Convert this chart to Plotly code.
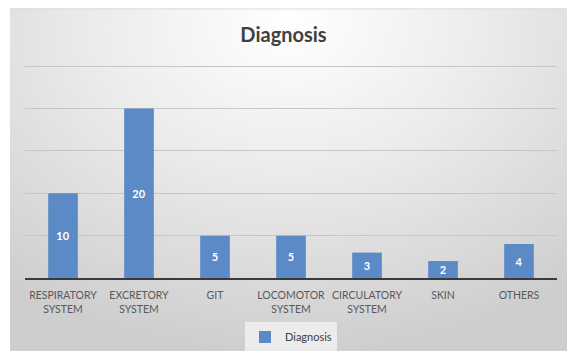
import plotly.graph_objects as go
import urllib.parse

categories = ["RESPIRATORY<br>SYSTEM", "EXCRETORY<br>SYSTEM", "GIT", "LOCOMOTOR<br>SYSTEM",
              "CIRCULATORY<br>SYSTEM", "SKIN", "OTHERS"]
values = [10, 20, 5, 5, 3, 2, 4]
series_name = "Diagnosis"
y_ticks = [0, 5, 10, 15, 20, 25]

W, H = 567, 351
y_max = 25.5
base_y = 278
px_per_unit = 212 / 25
ml, mr, mb = 25, 10, H - base_y
mt = base_y - y_max * px_per_unit
pw, ph = W - ml - mr, H - mt - mb

svg = ('<svg xmlns="http://www.w3.org/2000/svg" width="557" height="343" preserveAspectRatio="none">'
       '<defs><radialGradient id="g" cx="0.5" cy="0.05" r="0.8" gradientTransform="translate(0.5 0.05) scale(1 1.2) translate(-0.5 -0.05)">'
       '<stop offset="0" stop-color="#ffffff"/><stop offset="0.45" stop-color="#ebebeb"/>'
       '<stop offset="1" stop-color="#cecece"/></radialGradient></defs>'
       '<rect width="557" height="343" fill="url(#g)"/>'
       '<line x1="0" y1="0.5" x2="557" y2="0.5" stroke="#d4d4d4" stroke-width="1"/></svg>')
src = "data:image/svg+xml;charset=utf-8," + urllib.parse.quote(svg)

fig = go.Figure()
fig.add_trace(go.Bar(
    x=categories, y=values, name=series_name,
    marker=dict(color="#5b8ac6", line=dict(width=0)),
    text=[str(v) for v in values], textposition="inside", insidetextanchor="middle",
    textangle=0, constraintext="none",
    textfont=dict(family="Lato, sans-serif", size=11, color="white", weight="bold"),
    width=0.39, showlegend=True,
))

x0 = (10 - ml) / pw
x1 = (W - ml) / pw
y1 = (H - mb - 8) / ph
y0 = (H - mb - H) / ph
fig.add_layout_image(dict(source=src, xref="paper", yref="paper", x=x0, y=y1,
                          sizex=x1 - x0, sizey=y1 - y0, sizing="stretch",
                          xanchor="left", yanchor="top", layer="below"))

fig.update_layout(
    width=W, height=H,
    margin=dict(l=ml, r=mr, t=mt, b=mb, autoexpand=False),
    paper_bgcolor="white", plot_bgcolor="rgba(0,0,0,0)",
    title=dict(text="Diagnosis", x=0.5, xanchor="center", y=1 - 35 / H, yanchor="middle",
               font=dict(family="Lato, sans-serif", size=20, color="#404040", weight="bold")),
    xaxis=dict(showline=True, linecolor="#3a3a3a", linewidth=1.6, ticks="", automargin=False,
               ticklabelstandoff=7,
               tickfont=dict(family="Lato, sans-serif", size=10.5, color="#595959"),
               showgrid=False, fixedrange=True),
    yaxis=dict(range=[0, y_max], tickvals=y_ticks, showticklabels=False, showgrid=True,
               automargin=False, gridcolor="#c6c6c6", gridwidth=1, zeroline=False, fixedrange=True),
    legend=dict(orientation="h", x=0.5, xanchor="center", y=-(337 - base_y) / ph, yanchor="middle",
                bgcolor="#ececec", font=dict(family="Lato, sans-serif", size=11, color="#404040"),
                itemwidth=30),
    bargap=0.61,
)

fig.write_html("out.html")
